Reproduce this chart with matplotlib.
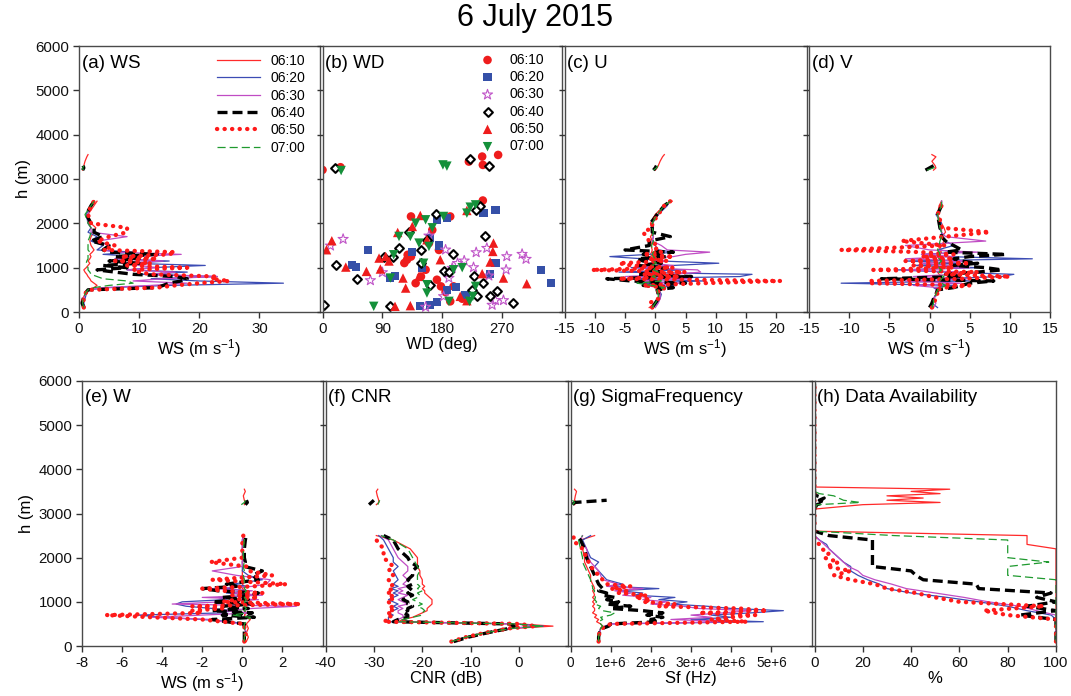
import numpy as np
import matplotlib
matplotlib.use("Agg")
import matplotlib.pyplot as plt

plt.rcParams['font.family'] = ['Liberation Sans', 'DejaVu Sans']
plt.rcParams['mathtext.default'] = 'regular'
plt.rcParams['axes.unicode_minus'] = False

# DATA
times = ["06:10", "06:20", "06:30", "06:40", "06:50", "07:00"]

# heights of the lower profile segment (m)
h_low = [100, 200, 300, 400, 450, 500, 550, 600, 650, 700, 750, 800, 850, 900, 950, 1000, 1050,
         1100, 1150, 1200, 1250, 1300, 1350, 1400, 1500, 1600, 1700, 1800, 1900, 2000, 2200, 2400, 2500]
# heights of the upper (isolated) segment, only 06:10, 06:40 and 07:00 reach it
h_up = [3200, 3250, 3300, 3400, 3500, 3550]

# (a) wind speed, rows in order of times
ws_rows = [
    [0.8, 0.5, 0.6, 1.0, 1.2, 1.5, 2.5, 3.0, 2.5, 2.0, 1.8, 1.5, 1.3, 1.0, 0.8, 1.2, 1.5, 1.8, 1.5, 1.8, 2.0, 1.8, 2.2, 2.5, 2.0, 1.8, 2.0, 2.5, 2.8, 2.0, 1.5, 2.5, 3.0],
    [1.0, 0.8, 1.0, 1.2, 1.3, 1.5, 5, 15, 34, 20, 12, 23, 10, 18, 8, 12, 21, 8, 15, 6, 10, 4, 9, 3, 4, 2, 3, 1.5, 2, 1.5, 1.2, 2.0, 2.5],
    [0.8, 0.6, 0.8, 1.0, 1.2, 1.5, 4, 12, 18, 9, 14, 23, 12, 16, 8, 13, 10, 7, 14, 6, 9, 17, 6, 4, 5, 3, 8, 2, 2, 1.5, 1.5, 2.0, 2.5],
    [0.8, 0.5, 0.7, 1.0, 1.2, 1.5, 13, 14, 15, 17, 18, 16, 9, 6, 3, 8, 4, 10, 5, 10, 6, 13, 5, 4, 5, 2, 4, 2.5, 2.5, 2.0, 1.2, 2.0, 2.5],
    [0.8, 0.7, 0.8, 1.0, 1.2, 1.5, 13, 16, 20, 25, 22, 23, 12, 10, 9, 18, 8, 12, 6, 13, 7, 15, 16, 4, 6, 3, 5, 8, 8, 2, 1.5, 2.0, 2.5],
    [0.8, 0.6, 0.7, 1.0, 1.2, 1.5, 2.5, 5, 9, 8, 4, 3, 2, 1.8, 1.5, 1.5, 1.3, 1.2, 1.3, 1.5, 1.5, 1.5, 1.8, 1.5, 1.5, 1.5, 1.8, 2.0, 2.0, 1.5, 1.0, 2.0, 2.5],
]
ws_up = [[0.6, 0.7, 0.8, 1.0, 1.3, 1.5], None, None, [0.6, 0.8, 0.7], None, [0.7, 0.6, 0.8]]

# (b) wind direction scatter (deg, m)
wd_deg = [
    [0, 27, 220, 240, 264, 241, 127, 128, 155, 172, 197, 178, 192, 133, 123, 148, 160, 192, 241, 133, 175, 140, 210, 185, 165],
    [68, 45, 50, 101, 109, 260, 242, 260, 252, 329, 343, 187, 200, 147, 161, 172, 187, 172, 162, 215, 150, 135, 175],
    [31, 12, 72, 90, 185, 195, 203, 213, 231, 247, 227, 250, 277, 276, 300, 306, 255, 260, 272, 182, 190, 160, 155],
    [2, 19, 221, 251, 21, 52, 93, 106, 115, 171, 130, 157, 148, 196, 182, 245, 242, 227, 232, 252, 262, 287, 101, 237, 230, 162, 148, 190, 225],
    [6, 14, 35, 66, 87, 85, 95, 109, 132, 113, 121, 125, 145, 147, 135, 257, 256, 252, 272, 307, 240, 217, 177, 207, 217, 157, 100],
    [28, 181, 187, 77, 102, 115, 132, 140, 155, 182, 145, 160, 152, 107, 197, 157, 190, 221, 230, 226, 222, 230, 217, 157, 165, 210],
]
wd_h = [
    [3205, 3266, 3393, 3506, 3543, 3318, 1179, 1290, 953, 728, 578, 578, 240, 1250, 1104, 800, 1554, 2155, 2515, 2155, 1400, 650, 300, 450, 1850],
    [1404, 1059, 1013, 766, 803, 2305, 2230, 1104, 856, 954, 653, 503, 556, 128, 158, 218, 2117, 2080, 1667, 375, 1000, 1350, 1500],
    [1644, 1494, 713, 893, 1404, 991, 1100, 1156, 1344, 1441, 1006, 818, 1254, 953, 1306, 1194, 158, 263, 263, 353, 766, 1720, 113],
    [158, 3258, 3446, 3296, 1059, 751, 1239, 1239, 1441, 2215, 1794, 1629, 1404, 1314, 916, 1704, 653, 803, 353, 353, 466, 203, 128, 2380, 2290, 616, 1100, 900, 500],
    [1404, 1607, 1013, 916, 969, 1216, 1254, 128, 143, 1794, 766, 540, 803, 2177, 1930, 1554, 1366, 1126, 766, 638, 866, 2290, 1179, 353, 255, 1629, 1150],
    [3191, 3318, 3290, 128, 766, 1704, 1704, 2004, 2080, 2155, 1554, 1479, 1100, 1291, 953, 428, 240, 240, 578, 353, 2365, 2417, 2230, 616, 1900, 1000],
]

# (c) U component
u_rows = [
    [-1, 0, 0.5, 0.8, 0.7, 0.5, 0.5, 1.5, 1.0, 0.5, 0.3, 0, 0.5, 0.2, -0.3, 0, -0.5, -0.3, -0.5, -0.8, -0.5, -0.8, -0.6, -0.5, -0.7, -0.5, -0.8, -0.3, -0.5, -0.8, 0, 1.5, 2.8],
    [-0.5, 0.3, 0.8, 1.0, 0.8, 0.5, 1, 3, -3, 8, -5, 14, 16, -6, 5, -4, 3, 10.5, 1, -2, -7.5, -1, 3, 0.5, 0, -0.5, -0.3, -0.5, -0.3, -0.5, 0.5, 2.0, 2.3],
    [0, 0.5, 0.8, 0.8, 0.7, 0.5, 1, -2, 4, -3, 6, -5, 3, 7.5, 7, -3, 3, -1, 2, -2, 3, 5, 9, 2, 1, -0.5, -0.3, -0.5, -0.3, -0.5, 0.5, 1.5, 2.5],
    [-0.5, 0, 0.5, 0.5, 0.4, 0.3, 3, -2, 5, -4, -8, 6, -3, 1, -1, 2, -3, 1, -2, -3, 2, -2, 3, -5, -1, -1, 2.5, -0.5, -0.5, -0.8, 0.3, 1.5, 2.5],
    [-0.5, -1, 0.5, 0.5, 0.5, 0.5, 2, -2, 8, 20.7, -6, 4, -2, 5, -10.5, 3, -4, -6, 2, -1, 3, -2, 1, 0, 0.5, -1, -1.5, -2, -0.5, -0.5, 0.5, 1.5, 2.5],
    [-0.5, 0, 0.5, 0.5, 0.4, 0.3, 1.5, -0.5, -3, 1, 0.5, -0.5, 0.3, 0.5, -0.3, 0, -0.5, 0.2, -0.3, 0, -0.3, -0.5, -0.3, -0.5, -0.6, -0.3, -0.5, -0.3, -0.5, -0.5, 0.3, 1.5, 2.5],
]
u_up = [[0, 0.3, 0.5, 0.8, 1.2, 1.5], None, None, [-0.3, 0, 0.2], None, [-0.3, 0.2, 0.4]]

# (d) V component
v_rows = [
    [0.5, 0.3, 0.5, 0.8, 0.9, 1.0, 1.2, 1.5, 1.2, 1.0, 1.2, 1.5, 1.2, 1.0, 1.5, 1.2, 1.0, 1.3, 1.5, 1.2, 1.0, 1.3, 1.5, 1.2, 1.5, 1.8, 1.5, 2.0, 1.8, 1.5, 1.0, 1.2, 1.5],
    [1.0, 0.3, 0.5, 0.8, 0.9, 1.0, 0.5, 3, -11, 5, 1, 9, 10.5, 2, -4, 6, -2, 4, -3, 12.8, 2, -1, 4, 1, 3, 2, 1.5, 1.5, 1.2, 1.5, 0.8, 1.5, 1.5],
    [0.5, 0.8, 0.5, 1.0, 0.9, 0.8, 1, -2, 4, -3, 5, -2, 3, 4, -3, 5, 2, -1, 5, -3, 3, -1, 6, 0, -3, 7, 2, 1.5, 1.5, 1.2, 1.0, 1.5, 1.5],
    [0, 0.3, 0.5, 0.8, 0.9, 1.0, 3, 4, 5, 8, -6, 4, 2, 6, 9, 7, 3, 6, 4, 3, 5, 9.5, 2, 4, 3, 2, 1.5, 1.5, 1.3, 1.2, 1.0, 1.5, 1.5],
    [0.3, 0.5, 0.8, 1.0, 0.9, 0.8, 2, 5, -7.5, -7.5, 4, 10, 2, 6, -7, 3, -2, 5, -3, 3, -1, 3, -1, -11, 2, -3.5, 2, 7.5, 1.5, 1.5, 1.0, 1.5, 1.5],
    [0.3, 0.5, 0.5, 0.8, 0.9, 1.0, 1.5, 2.0, 1.5, 1.2, 1.5, 1.8, 1.3, 1.2, 1.5, 1.2, 1.0, 1.2, 1.5, 1.2, 1.0, 1.3, 1.2, 1.0, 1.2, 1.3, 1.5, 1.5, 1.3, 1.2, 1.0, 1.5, 1.5],
]
v_up = [[0.5, 0.8, 0.7, 0.3, 0.8, 0.3], None, None, [-0.5, 0, 0.5], None, [-0.3, 0.5, 0.8]]

# (e) W component
w_rows = [
    [0.2, 0.3, 0.2, 0.3, 0.25, 0.2, 0.3, 0.4, 0.2, 0.1, 0.2, 0.1, 0.2, 0.1, 0.2, 0, 0.1, 0.2, 0.1, 0, 0.1, 0, 0.1, 0, 0.1, 0, 0, 0.05, 0, 0, 0, 0.05, 0],
    [0.1, 0.1, 0.2, 0.1, 0.05, 0, -0.5, -2, -4, -5.2, -1, -0.5, -1.5, -2.8, -3.3, -3.0, -0.8, -1.2, 0.5, -0.8, 0.3, -1, 0.3, -0.5, 1.0, 0.3, 0, 0, 0, 0.05, 0, 0, 0.05],
    [0.1, 0.1, 0.2, 0.1, 0.05, 0, -1, -1.5, -4.5, -2, 0.5, -1, 0.5, 2.7, -3.5, -1, 0.8, -2, 1, -0.5, 0.5, -1.5, 0.5, 1.2, 1.4, -0.3, -1.5, 0, 0, 0.05, 0, 0, 0.05],
    [0.1, 0.1, 0.1, 0.1, 0.1, 0.1, -0.8, -1.5, 0.6, -1, 0.5, -1.5, 0.3, -1, 0.5, -1.5, 0.3, -1, 0.5, 0.8, -1.2, -2, -0.3, -0.8, 0.8, 0.5, 1.0, 0.1, 0.15, 0.1, 0.1, 0.15, 0.2],
    [0.1, 0.1, 0.2, 0.1, 0.1, 0.1, -1, -2, -4.5, -6.8, -2, -2.5, -1, -2.5, 2.9, -1, -0.3, 0.8, -0.5, 1.0, -1, -2, 0.5, 2.2, -1.5, 1.5, 0.3, 0.2, -1.6, 0, 0, 0, 0.05],
    [0.1, 0.1, 0.15, 0.1, 0.1, 0.1, 0.2, 0.3, 0.4, -0.5, 0.2, 0.1, 0.2, 0.1, 0.2, 0.1, 0.2, 0.1, 0.15, 0.1, 0.2, 0.1, 0.15, 0.1, 0.1, 0.05, 0.1, 0.05, 0.1, 0.05, 0.05, 0.1, 0.1],
]
w_up = [[0.1, 0.15, 0.1, 0.05, 0.15, 0.1], None, None, [0.15, 0.25, 0.2], None, [-0.05, 0.1, 0.15]]

# (f) carrier to noise ratio (dB)
cnr_rows = [
    [-14, -11, -7, -1, 7, 0, -25, -24, -22, -21, -20, -19, -19, -18.5, -18, -18, -18, -18.5, -19, -19.5, -19.5, -20, -19.5, -20, -20, -20.5, -20.5, -21, -21, -21, -22.5, -26, -29.5],
    [-14, -11, -7, -2, 5, -1, -27.5, -27, -27, -26, -27, -26, -25, -26, -25, -26, -27, -26, -25, -26, -25, -26.5, -25, -26, -25, -25.5, -26, -25, -26, -26, -27, -28, -29],
    [-14, -11, -7, -2, 4, -1, -26, -25, -24, -24, -25, -25, -24, -25, -23, -24, -25, -24, -23, -25, -24, -25, -23, -24, -23, -24, -23, -23, -24, -25, -26, -27, -28.5],
    [-13.5, -10.5, -6.5, -2, -1, -2, -26, -25, -23, -23, -24, -23, -23, -22, -23, -23, -24, -23, -22, -23, -22, -22.5, -23, -22, -23, -22, -22, -21, -22.5, -23, -25, -26, -28],
    [-14, -11, -7, -2, 3.5, 0, -28, -27, -27, -26, -27, -26, -27, -26, -26.5, -27, -26, -27, -26, -27, -26, -27, -26.5, -26, -27, -26, -27, -26, -27, -28, -28, -29.5, -29],
    [-14, -11, -7, -1.5, 5, -1, -25, -24, -22, -20, -20, -19.5, -20, -21, -20, -21, -22, -21, -20.5, -21, -20, -21, -20.5, -21, -21, -21, -20.5, -21, -21.5, -22, -23, -26, -28.5],
]
cnr_up = [[-29.5, -29, -29, -29.3, -29.5, -29.2], None, None, [-31, -30.5, -30], None, [-29.2, -29, -28.8]]

# (g) sigma frequency (units of 1e6 Hz)
sf_rows = [
    [0.7, 0.7, 0.72, 0.75, 0.8, 0.75, 0.65, 0.7, 0.6, 0.65, 0.55, 0.6, 0.6, 0.55, 0.6, 0.55, 0.6, 0.55, 0.6, 0.58, 0.55, 0.6, 0.58, 0.55, 0.5, 0.5, 0.45, 0.4, 0.35, 0.35, 0.3, 0.25, 0.6],
    [0.7, 0.7, 0.72, 0.75, 0.9, 1.0, 4.8, 3.0, 4.0, 3.5, 4.5, 5.3, 4.0, 3.4, 2.5, 2.9, 2.2, 2.6, 1.6, 1.8, 1.2, 2.2, 1.0, 1.3, 0.9, 0.8, 0.7, 0.6, 0.7, 0.5, 0.4, 0.3, 0.5],
    [0.7, 0.7, 0.72, 0.75, 0.85, 1.0, 4.0, 2.5, 3.5, 3.0, 3.8, 4.5, 3.2, 2.8, 2.0, 2.4, 1.8, 2.0, 1.3, 1.5, 1.1, 1.8, 0.9, 1.2, 0.8, 0.75, 0.7, 0.6, 0.5, 0.45, 0.4, 0.25, 0.3],
    [0.7, 0.7, 0.72, 0.8, 0.95, 1.0, 2.2, 2.0, 2.3, 1.9, 2.3, 1.8, 1.0, 1.5, 0.9, 1.2, 0.9, 1.1, 0.8, 0.9, 0.7, 0.8, 0.75, 0.7, 0.65, 0.6, 0.55, 0.5, 0.45, 0.4, 0.35, 0.25, 0.15],
    [0.7, 0.7, 0.72, 0.78, 0.9, 1.0, 4.4, 3.5, 4.0, 4.6, 3.2, 4.9, 4.2, 2.2, 2.6, 1.8, 2.0, 1.6, 1.9, 1.2, 1.4, 1.0, 1.5, 0.9, 0.8, 0.7, 0.6, 0.5, 0.45, 0.4, 0.3, 0.05, 0.1],
    [0.7, 0.7, 0.72, 0.75, 0.8, 0.75, 0.7, 0.8, 0.75, 1.0, 1.1, 0.8, 0.7, 0.75, 0.6, 0.65, 0.6, 0.62, 0.6, 0.58, 0.6, 0.55, 0.55, 0.5, 0.5, 0.45, 0.4, 0.35, 0.3, 0.3, 0.25, 0.2, 0.3],
]
sf_up = [[0.1, 0.15, 0.1, 0.12, 0.15, 0.1], None, None, [0.05, 0.1, 0.9], None, [0.05, 0.1, 0.05]]
sf_ticklabels = ['0', '1e+6', '2e+6', '3e+6', '4e+6', '5e+6']

# (h) data availability (%), own height grid up to 6000 m
h_avail = [100, 200, 300, 400, 500, 600, 700, 800, 900, 1000, 1100, 1200, 1300, 1400, 1500, 1600, 1700,
           1800, 1900, 2000, 2100, 2200, 2300, 2400, 2500, 2600, 3100, 3200, 3250, 3300, 3350, 3400,
           3450, 3500, 3550, 3600, 6000]
avail_rows = [
    [100, 100, 100, 100, 100, 100, 100, 100, 100, 100, 100, 100, 100, 100, 100, 100, 100, 100, 100, 100, 100, 100, 88, 88, 88, 0, 0, 20, 52, 30, 45, 30, 52, 40, 56, 0, 0],
    [100, 100, 100, 100, 100, 100, 98, 88, 80, 68, 55, 40, 30, 27, 22, 18, 15, 15, 12, 10, 8, 6, 5, 2, 0, 0, 0, 0, 0, 0, 0, 0, 0, 0, 0, 0, 0],
    [100, 100, 100, 100, 100, 100, 100, 92, 85, 72, 62, 50, 38, 32, 25, 20, 18, 14, 12, 10, 8, 6, 4, 2, 0, 0, 0, 0, 0, 0, 0, 0, 0, 0, 0, 0, 0],
    [100, 100, 100, 100, 100, 100, 85, 100, 88, 100, 92, 98, 68, 67, 45, 42, 40, 24, 24, 24, 24, 24, 24, 24, 6, 0, 0, 1, 4, 2, 4, 1, 0, 0, 0, 0, 0],
    [100, 100, 100, 100, 100, 100, 80, 70, 95, 60, 50, 42, 30, 25, 15, 8, 15, 5, 10, 4, 6, 3, 2, 0, 0, 0, 0, 0, 0, 0, 0, 0, 0, 0, 0, 0, 0],
    [100, 100, 100, 100, 100, 100, 100, 100, 100, 100, 100, 100, 100, 100, 100, 80, 80, 80, 97, 80, 80, 80, 80, 80, 33, 0, 0, 1, 19, 12, 10, 8, 2, 0, 0, 0, 0],
]

# STYLES
line_styles = [
    dict(color='#ff2a2a', lw=0.9, ls='-'),
    dict(color='#3c4cb4', lw=0.9, ls='-'),
    dict(color='#c04cc4', lw=0.9, ls='-'),
    dict(color='black', lw=2.4, ls=(0, (3.0, 1.5))),
    dict(color='#ff1a1a', lw=3.1, ls=(0, (0.05, 1.7)), dash_capstyle='round'),
    dict(color='#1f9a2f', lw=0.9, ls=(0, (6.5, 3.2))),
]
marker_styles = [
    dict(marker='o', s=38, c='#ee1c1c', edgecolors='none'),
    dict(marker='s', s=34, c='#3550a8', edgecolors='none'),
    dict(marker='*', s=58, facecolors='none', edgecolors='#c055c8', linewidths=0.8),
    dict(marker='D', s=20, facecolors='white', edgecolors='black', linewidths=1.5),
    dict(marker='^', s=46, c='#ee1c1c', edgecolors='none'),
    dict(marker='v', s=46, c='#14903a', edgecolors='none'),
]

W, H = 1071, 696
fig = plt.figure(figsize=(W / 100, H / 100), dpi=100)


def add_panel(left, top, right, bottom, title):
    ax = fig.add_axes([left / W, 1 - bottom / H, (right - left) / W, (bottom - top) / H])
    for s in ax.spines.values():
        s.set_color('#4a4a4a')
        s.set_linewidth(1.0)
    ax.tick_params(direction='out', length=4, width=1, color='#333333',
                   labelsize=10.8, pad=3, labelcolor='#111111')
    ax.set_ylim(0, 6000)
    ax.set_yticks(range(0, 6001, 1000))
    ax.text(0.012, 0.968, title, transform=ax.transAxes, ha='left', va='top', fontsize=13.5)
    return ax


def draw_profiles(ax, rows, upper, scale=1.0):
    for i, style in enumerate(line_styles):
        ax.plot(np.array(rows[i]) * scale, h_low, label=times[i], **style)
        if upper[i] is not None:
            ax.plot(np.array(upper[i]) * scale, h_up[:len(upper[i])], **style)


ws_label = 'WS (m s$^{-1}$)'
lab_fs = 12

# top row
ax_a = add_panel(79, 46, 319.5, 312, '(a) WS')
draw_profiles(ax_a, ws_rows, ws_up)
ax_a.set_xlim(0, 40)
ax_a.set_xticks([0, 10, 20, 30])
ax_a.set_xlabel(ws_label, fontsize=lab_fs, labelpad=1)
ax_a.set_ylabel('h (m)', fontsize=lab_fs, labelpad=3)
ax_a.legend(loc='upper left', bbox_to_anchor=(0.575, 0.97), frameon=False, fontsize=10,
            handlelength=3.1, handletextpad=0.7, labelspacing=0.24, borderpad=0, borderaxespad=0)

ax_b = add_panel(322.5, 46, 562, 312, '(b) WD')
for i, ms in enumerate(marker_styles):
    ax_b.scatter(wd_deg[i], wd_h[i], label=times[i], **ms)
ax_b.set_xlim(0, 360)
ax_b.set_xticks([0, 90, 180, 270])
ax_b.set_yticklabels([])
ax_b.set_xlabel('WD (deg)', fontsize=lab_fs, labelpad=1)
ax_b.legend(loc='upper left', bbox_to_anchor=(0.66, 0.975), frameon=False, fontsize=10,
            handlelength=1.0, handletextpad=1.1, labelspacing=0.24, borderpad=0, borderaxespad=0,
            scatterpoints=1)

ax_c = add_panel(564.5, 46, 806.5, 312, '(c) U')
draw_profiles(ax_c, u_rows, u_up)
ax_c.set_xlim(-15, 25)
ax_c.set_xticks(range(-15, 21, 5))
ax_c.set_yticklabels([])
ax_c.set_xlabel(ws_label, fontsize=lab_fs, labelpad=1)

ax_d = add_panel(809, 46, 1050, 312, '(d) V')
draw_profiles(ax_d, v_rows, v_up)
ax_d.set_xlim(-15, 15)
ax_d.set_xticks(range(-15, 16, 5))
ax_d.set_yticklabels([])
ax_d.set_xlabel(ws_label, fontsize=lab_fs, labelpad=1)

# bottom row
ax_e = add_panel(82, 381, 322.5, 646, '(e) W')
draw_profiles(ax_e, w_rows, w_up)
ax_e.set_xlim(-8, 4)
ax_e.set_xticks([-8, -6, -4, -2, 0, 2])
ax_e.set_xlabel(ws_label, fontsize=lab_fs, labelpad=1)
ax_e.set_ylabel('h (m)', fontsize=lab_fs, labelpad=3)

ax_f = add_panel(325.5, 381, 567.5, 646, '(f) CNR')
draw_profiles(ax_f, cnr_rows, cnr_up)
ax_f.set_xlim(-40, 10)
ax_f.set_xticks([-40, -30, -20, -10, 0])
ax_f.set_yticklabels([])
ax_f.set_xlabel('CNR (dB)', fontsize=lab_fs, labelpad=1)

ax_g = add_panel(570.5, 381, 811.5, 646, '(g) SigmaFrequency')
draw_profiles(ax_g, sf_rows, sf_up, scale=1e6)
ax_g.set_xlim(0, 6e6)
ax_g.set_xticks([0, 1e6, 2e6, 3e6, 4e6, 5e6])
ax_g.set_xticklabels(sf_ticklabels, fontsize=9.8)
ax_g.set_yticklabels([])
ax_g.set_xlabel('Sf (Hz)', fontsize=lab_fs, labelpad=1)

ax_h = add_panel(814.5, 381, 1056, 646, '(h) Data Availability')
for i, style in enumerate(line_styles):
    ax_h.plot(avail_rows[i], h_avail, **style)
ax_h.set_xlim(0, 100)
ax_h.set_xticks(range(0, 101, 20))
ax_h.set_yticklabels([])
ax_h.set_xlabel('%', fontsize=lab_fs, labelpad=1)

fig.text(535 / W, 1 - 18 / H, '6 July 2015', ha='center', va='center', fontsize=22)

fig.savefig('out.png', dpi=100)
